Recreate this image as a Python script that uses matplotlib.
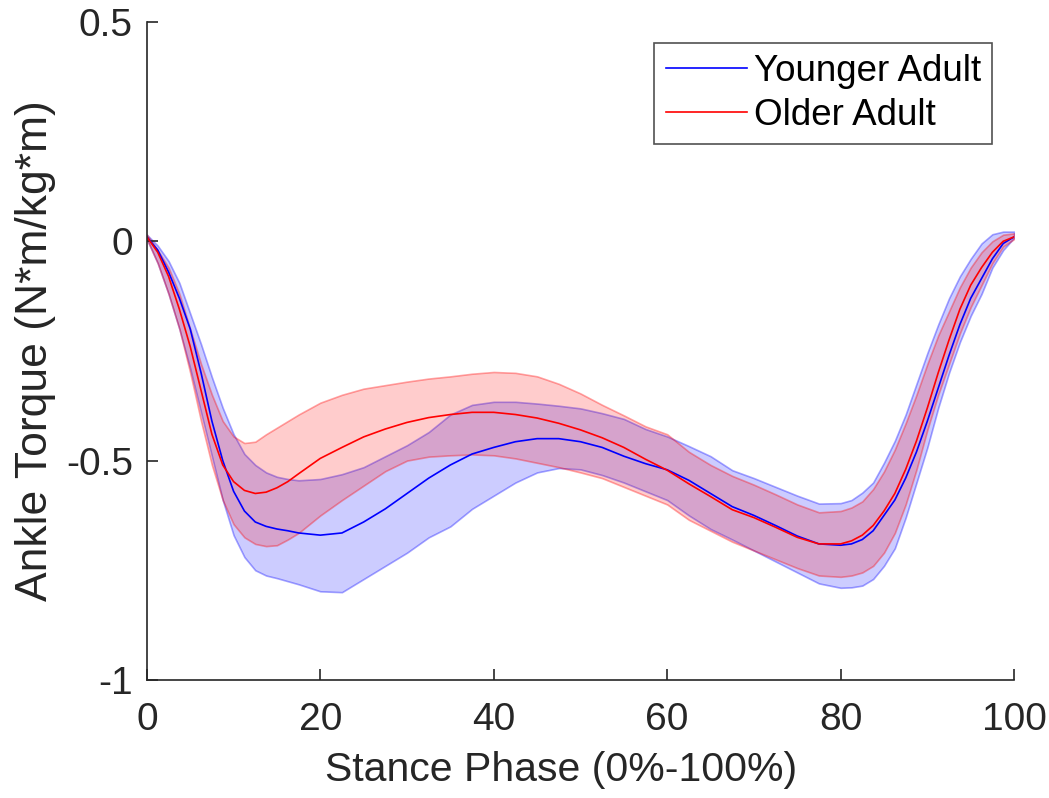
import matplotlib
matplotlib.use("Agg")
import matplotlib.pyplot as plt
import numpy as np

plt.rcParams['font.family'] = ['Liberation Sans', 'DejaVu Sans']

# stance phase (%): finer steps where the curves bend sharply
phase = np.concatenate([np.arange(0, 17.6, 1.25),
                        np.arange(20, 77.6, 2.5),
                        np.arange(80, 100.1, 1.25)])

# younger adult: mean and +/- SD band
young_mean = [0.01, -0.02, -0.07, -0.13, -0.20, -0.30, -0.41, -0.50, -0.57, -0.615, -0.64, -0.65, -0.656, -0.66, -0.665,
              -0.67, -0.665, -0.64, -0.61, -0.575, -0.54, -0.51, -0.485, -0.47, -0.457, -0.45, -0.45,
              -0.457, -0.47, -0.49, -0.507, -0.521, -0.545, -0.575, -0.605, -0.625, -0.648, -0.672, -0.69,
              -0.693, -0.69, -0.68, -0.66, -0.625, -0.59, -0.54, -0.48, -0.41, -0.335, -0.26, -0.19, -0.13, -0.085, -0.04, -0.005, 0.01]
young_upper = [0.015, -0.01, -0.045, -0.095, -0.165, -0.235, -0.31, -0.38, -0.44, -0.485, -0.51, -0.527, -0.537, -0.542, -0.545,
               -0.542, -0.531, -0.515, -0.49, -0.465, -0.435, -0.395, -0.373, -0.366, -0.366, -0.37, -0.375,
               -0.381, -0.392, -0.405, -0.428, -0.445, -0.467, -0.49, -0.522, -0.54, -0.56, -0.58, -0.598,
               -0.597, -0.59, -0.573, -0.55, -0.505, -0.455, -0.395, -0.325, -0.255, -0.19, -0.13, -0.08, -0.04, -0.005, 0.016, 0.022, 0.022]
young_lower = [0.005, -0.05, -0.12, -0.20, -0.29, -0.39, -0.49, -0.59, -0.67, -0.72, -0.75, -0.762, -0.768, -0.775, -0.782,
               -0.798, -0.80, -0.77, -0.74, -0.71, -0.675, -0.65, -0.61, -0.58, -0.55, -0.527, -0.517,
               -0.52, -0.533, -0.55, -0.57, -0.59, -0.625, -0.656, -0.68, -0.705, -0.73, -0.755, -0.78,
               -0.79, -0.789, -0.785, -0.77, -0.74, -0.70, -0.63, -0.55, -0.47, -0.38, -0.30, -0.23, -0.17, -0.12, -0.06, -0.02, 0.008]

# older adult: mean and +/- SD band
old_mean = [0.01, -0.025, -0.08, -0.155, -0.24, -0.34, -0.44, -0.51, -0.548, -0.568, -0.575, -0.572, -0.562, -0.548, -0.53,
            -0.495, -0.47, -0.446, -0.428, -0.413, -0.402, -0.395, -0.39, -0.39, -0.395, -0.403, -0.415,
            -0.43, -0.448, -0.47, -0.497, -0.522, -0.553, -0.582, -0.612, -0.63, -0.652, -0.675, -0.69,
            -0.69, -0.683, -0.67, -0.648, -0.615, -0.575, -0.52, -0.455, -0.38, -0.30, -0.225, -0.155, -0.10, -0.06, -0.025, 0.0, 0.01]
old_upper = [0.015, -0.02, -0.06, -0.12, -0.2, -0.28, -0.35, -0.41, -0.445, -0.46, -0.457, -0.44, -0.425, -0.41, -0.395,
             -0.368, -0.35, -0.336, -0.328, -0.32, -0.313, -0.308, -0.302, -0.298, -0.30, -0.308, -0.325,
             -0.347, -0.373, -0.397, -0.422, -0.44, -0.48, -0.51, -0.535, -0.555, -0.577, -0.60, -0.618,
             -0.615, -0.607, -0.593, -0.565, -0.525, -0.475, -0.415, -0.35, -0.28, -0.215, -0.16, -0.105, -0.06, -0.025, 0.0, 0.015, 0.018]
old_lower = [0.005, -0.05, -0.12, -0.20, -0.30, -0.41, -0.51, -0.59, -0.645, -0.675, -0.69, -0.695, -0.693, -0.68, -0.665,
             -0.625, -0.59, -0.557, -0.524, -0.50, -0.491, -0.488, -0.486, -0.488, -0.495, -0.505, -0.515,
             -0.527, -0.54, -0.56, -0.58, -0.60, -0.635, -0.66, -0.685, -0.705, -0.725, -0.745, -0.762,
             -0.765, -0.762, -0.755, -0.74, -0.71, -0.665, -0.60, -0.52, -0.43, -0.35, -0.28, -0.21, -0.15, -0.10, -0.05, -0.012, 0.005]

dark = (0.15, 0.15, 0.15)

fig = plt.figure(figsize=(10.49, 7.98), dpi=100)
ax = fig.add_axes([0.140, 0.148, 0.8267, 0.8245])

ax.fill_between(phase, young_lower, young_upper, facecolor=(0, 0, 1, 0.2),
                edgecolor=(0, 0, 1, 0.35), linewidth=1.2)
ax.fill_between(phase, old_lower, old_upper, facecolor=(1, 0, 0, 0.2),
                edgecolor=(1, 0, 0, 0.35), linewidth=1.2)
ax.plot(phase, young_mean, color='blue', linewidth=1.2, label='Younger Adult')
ax.plot(phase, old_mean, color='red', linewidth=1.2, label='Older Adult')

ax.set_xlim(0, 100)
ax.set_ylim(-1, 0.5)
ax.set_xticks([0, 20, 40, 60, 80, 100])
ax.set_yticks([-1, -0.5, 0, 0.5])
ax.set_yticklabels(['-1', '-0.5', '0', '0.5'])

for s in ['top', 'right']:
    ax.spines[s].set_visible(False)
for s in ['left', 'bottom']:
    ax.spines[s].set_color(dark)
    ax.spines[s].set_linewidth(1.2)
ax.tick_params(direction='in', length=8, width=1.2, color=dark,
               labelcolor=dark, labelsize=28)
ax.tick_params(axis='x', pad=16)
ax.tick_params(axis='y', pad=10)

ax.set_xlabel('Stance Phase (0%-100%)', fontsize=29.5, color=dark, labelpad=9)
ax.xaxis.label.set_x(0.478)
ax.set_ylabel('Ankle Torque (N*m/kg*m)', fontsize=32, color=dark, labelpad=7)

leg = ax.legend(loc='upper right', bbox_to_anchor=(0.9746, 0.9685), borderaxespad=0,
                fontsize=26.5, fancybox=False, handlelength=2.2, handletextpad=0.2,
                borderpad=0.3, labelspacing=0.25)
leg.get_frame().set_edgecolor(dark)
leg.get_frame().set_linewidth(1.2)
for t in leg.get_texts():
    t.set_color('black')

fig.savefig('out.png', dpi=100)
